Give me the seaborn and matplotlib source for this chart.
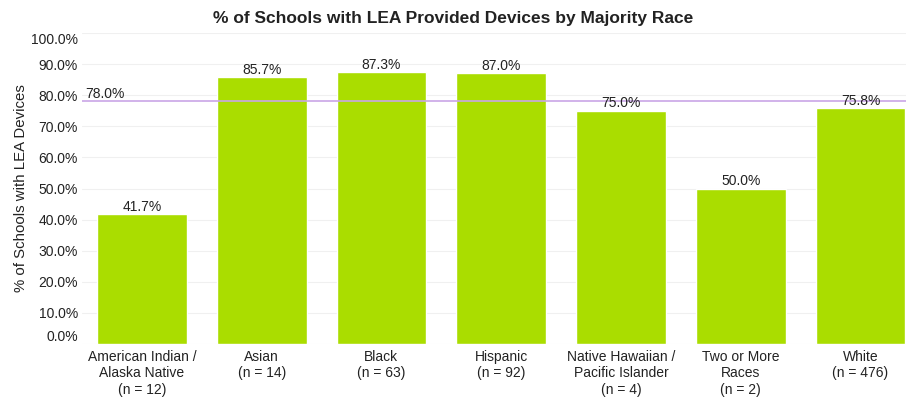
import matplotlib
matplotlib.use("Agg")
import matplotlib.pyplot as plt
import seaborn as sns
import pandas as pd

categories = [
    "American Indian /\nAlaska Native\n(n = 12)",
    "Asian\n(n = 14)",
    "Black\n(n = 63)",
    "Hispanic\n(n = 92)",
    "Native Hawaiian /\nPacific Islander\n(n = 4)",
    "Two or More\nRaces\n(n = 2)",
    "White\n(n = 476)",
]
pct_devices = [41.7, 85.7, 87.3, 87.0, 75.0, 50.0, 75.8]
overall_pct = 78.0
y_ticks = [0, 10, 20, 30, 40, 50, 60, 70, 80, 90, 100]

df = pd.DataFrame({"group": categories, "pct": pct_devices})

sns.set_theme(style="white")
plt.rcParams["font.family"] = ["Liberation Sans", "DejaVu Sans"]

fig = plt.figure(figsize=(9.06, 3.99), dpi=100)
ax = fig.add_axes([82 / 906, 1 - 344 / 399, 1 - 82 / 906, (344 - 33) / 399])

sns.barplot(data=df, x="group", y="pct", color="#AADD00", saturation=1,
            width=0.75, ax=ax, zorder=2)

ax.set_ylim(0, 100)
ax.set_xlim(-0.5, 6.38)
ax.set_yticks(y_ticks)
ax.set_yticklabels([f"{t:.1f}%" for t in y_ticks])
ax.yaxis.grid(True, color="#F0F0F0", linewidth=0.8, zorder=0)
ax.set_axisbelow(True)
for s in ax.spines.values():
    s.set_visible(False)
ax.tick_params(axis="both", length=0, labelsize=10, colors="#222222")
ax.tick_params(axis="y", pad=3)
ax.tick_params(axis="x", pad=4)

# keep the end tick labels inside the plot area
labels = ax.get_yticklabels()
labels[0].set_va("bottom")
labels[-1].set_va("top")

for i, v in enumerate(pct_devices):
    ax.annotate(f"{v:.1f}%", (i, v), xytext=(0, 2.5), textcoords="offset points",
                ha="center", va="baseline", fontsize=10, color="#222222", zorder=4)

ax.axhline(overall_pct, color="#C9A6E6", linewidth=1.2, zorder=3)
ax.annotate(f"{overall_pct:.1f}%", (-0.5, overall_pct), xytext=(2, 2.5),
            textcoords="offset points", ha="left", va="baseline",
            fontsize=10, color="#222222", zorder=4)

ax.set_xlabel("")
ax.set_ylabel("% of Schools with LEA Devices", fontsize=10.8, color="#222222", labelpad=2)
ax.set_xticks(range(len(categories)))
ax.set_xticklabels(categories, fontsize=10, color="#222222", linespacing=1.25)

fig.text(0.5, 1 - 18 / 399, "% of Schools with LEA Provided Devices by Majority Race",
         ha="center", va="center", fontsize=12.5, fontweight="bold", color="#222222")

fig.savefig("out.png", dpi=100)
